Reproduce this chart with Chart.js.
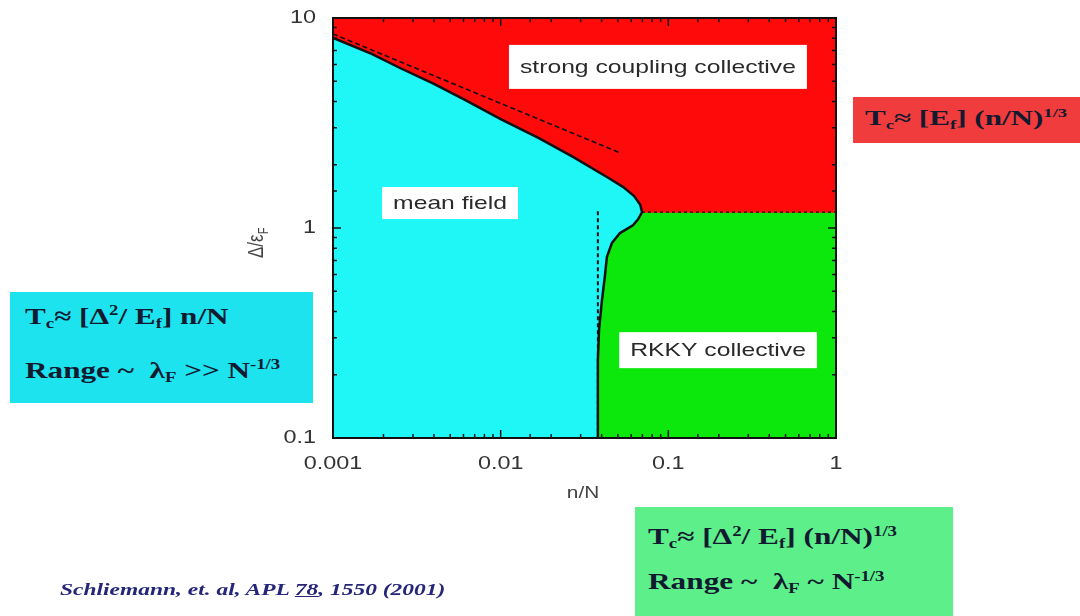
<!DOCTYPE html>
<html>
<head>
<meta charset="utf-8">
<script src="https://cdn.jsdelivr.net/npm/chart.js@4"></script>
<style>
  body { margin: 0; background: #fff; }
  #wrap { position: relative; width: 1080px; height: 616px; overflow: hidden; }
  #canvas { position: absolute; left: 0; top: 0; }
  .box { position: absolute; font-family: 'Liberation Serif', 'Times New Roman', serif; font-weight: bold; color: #121a30; }
  .box div { position: absolute; white-space: nowrap; transform-origin: left center; }
  .box sub { font-size: 0.6em; vertical-align: -0.3em; }
  .box sup { font-size: 0.6em; vertical-align: 0.6em; }
  .cyan { background: #1ce3ee; }
  .red { background: #f03c3c; }
  .green { background: #5cef8a; }
  #cite { position: absolute; left: 60px; top: 580px; font-family: 'Liberation Serif', serif; font-style: italic; font-weight: bold; font-size: 17px; color: #25257a; white-space: nowrap; transform: scaleX(1.38); transform-origin: left center; }
</style>
</head>
<body>
<div id="wrap">
  <canvas id="canvas" width="1080" height="616"></canvas>

  <div class="box cyan" style="left:10px;top:292px;width:303px;height:111px;font-size:24px;">
    <div style="left:15px;top:10px;transform:scaleX(1.3);">T<sub>c</sub>≈ [Δ<sup>2</sup>/ E<sub>f</sub>] n/N</div>
    <div style="left:15px;top:64px;transform:scaleX(1.3);">Range ~ &nbsp;λ<sub>F</sub> &gt;&gt; N<sup>-1/3</sup></div>
  </div>

  <div class="box red" style="left:853px;top:97px;width:227px;height:46px;font-size:21px;">
    <div style="left:12px;top:9px;transform:scaleX(1.48);">T<sub>c</sub>≈ [E<sub>f</sub>] (n/N)<sup>1/3</sup></div>
  </div>

  <div class="box green" style="left:635px;top:507px;width:318px;height:109px;font-size:23px;">
    <div style="left:13px;top:17px;transform:scaleX(1.36);">T<sub>c</sub>≈ [Δ<sup>2</sup>/ E<sub>f</sub>] (n/N)<sup>1/3</sup></div>
    <div style="left:13px;top:62px;transform:scaleX(1.36);">Range ~ &nbsp;λ<sub>F</sub> ~ N<sup>-1/3</sup></div>
  </div>

  <div id="cite">Schliemann, et. al, APL <u>78</u>, 1550 (2001)</div>
</div>

<script>
document.addEventListener('DOMContentLoaded', () => {
  // axis limits
  const xMin = 0.001, xMax = 1;
  const yMin = 0.1, yMax = 10;
  const xTicks = [0.001, 0.01, 0.1, 1];
  const yTicks = [0.1, 1, 10];
  const xTickLabels = ['0.001', '0.01', '0.1', '1'];
  const yTickLabels = ['0.1', '1', '10'];

  // phase boundary (solid black curve)
  const boundaryX = [0.001, 0.0017, 0.00251, 0.0040, 0.00612, 0.0100, 0.0169, 0.0270, 0.0430, 0.0536, 0.0625, 0.0680, 0.0697, 0.0660, 0.0615, 0.0515, 0.0461, 0.0430, 0.0418, 0.0402, 0.0386, 0.0380, 0.0380];
  const boundaryY = [8.03, 6.75, 5.78, 4.85, 4.07, 3.30, 2.68, 2.18, 1.75, 1.57, 1.42, 1.29, 1.19, 1.10, 1.03, 0.946, 0.849, 0.728, 0.585, 0.454, 0.327, 0.235, 0.1];
  const noseIndex = 12;

  // dashed asymptote lines
  const slopeX = [0.001, 0.0515];
  const slopeY = [8.4, 2.28];
  const vertX = [0.038, 0.038];
  const vertY = [1.2, 0.1];
  const horizX = [0.0697, 1];
  const horizY = [1.19, 1.19];

  // region labels
  const regionLabels = ['strong coupling collective', 'mean field', 'RKKY collective'];
  const labelX = [0.0867, 0.00499, 0.198];
  const labelY = [5.85, 1.315, 0.262];
  const labelH = [44, 32, 36];

  const stretch = 1.3; // the original slide is stretched sideways

  const pts = (xs, ys) => xs.map((x, i) => ({ x, y: ys[i] }));
  const boundary = pts(boundaryX, boundaryY);

  const redShape = [{ x: xMin, y: yMax }, { x: xMax, y: yMax }, { x: xMax, y: horizY[0] }]
    .concat(boundary.slice(0, noseIndex + 1).reverse());
  const cyanShape = [{ x: xMin, y: yMin }].concat(boundary);
  const greenShape = boundary.slice(noseIndex).concat([{ x: xMax, y: yMin }, { x: xMax, y: horizY[0] }]);

  const fillSet = (data, color) => ({
    data, showLine: true, fill: 'shape', backgroundColor: color, borderColor: color,
    borderWidth: 1, pointRadius: 0, order: 2,
  });
  const lineSet = (data, width, dash) => ({
    data, showLine: true, fill: false, borderColor: '#111', borderWidth: width,
    borderDash: dash, pointRadius: 0, order: 0,
  });

  const isDecade = (v) => Math.abs(Math.log10(v) - Math.round(Math.log10(v))) < 1e-6;
  const sans = '"Liberation Sans", Arial, sans-serif';

  // draws text stretched horizontally around (x, y)
  const wideText = (ctx, txt, x, y, align) => {
    ctx.save();
    ctx.translate(x, y);
    ctx.scale(stretch, 1);
    ctx.textAlign = align;
    ctx.fillText(txt, 0, 0);
    ctx.restore();
  };

  const frame = {
    id: 'frame',
    afterDatasetsDraw(chart) {
      const { ctx, chartArea: a } = chart;
      const sx = chart.scales.x, sy = chart.scales.y;
      ctx.save();
      ctx.strokeStyle = '#111';
      ctx.lineWidth = 1.5;
      [sx, sy].forEach((s) => {
        s.ticks.forEach((t) => {
          const p = s.getPixelForValue(t.value);
          const len = isDecade(t.value) ? 8 : 4;
          ctx.beginPath();
          if (s === sx) {
            ctx.moveTo(p, a.bottom); ctx.lineTo(p, a.bottom - len);
            ctx.moveTo(p, a.top); ctx.lineTo(p, a.top + len);
          } else {
            ctx.moveTo(a.left, p); ctx.lineTo(a.left + len, p);
            ctx.moveTo(a.right, p); ctx.lineTo(a.right - len, p);
          }
          ctx.stroke();
        });
      });
      ctx.lineWidth = 2;
      ctx.strokeRect(a.left, a.top, a.right - a.left, a.bottom - a.top);

      // tick labels
      ctx.fillStyle = '#333';
      ctx.font = '18px ' + sans;
      ctx.textBaseline = 'middle';
      xTicks.forEach((v, i) => wideText(ctx, xTickLabels[i], sx.getPixelForValue(v), a.bottom + 26, 'center'));
      yTicks.forEach((v, i) => wideText(ctx, yTickLabels[i], a.left - 17, sy.getPixelForValue(v), 'right'));

      // x title
      ctx.fillStyle = '#444';
      ctx.font = '16px ' + sans;
      wideText(ctx, 'n/N', sx.getPixelForValue(0.031), a.bottom + 56, 'center');

      // region labels
      ctx.font = '19px ' + sans;
      ctx.textBaseline = 'middle';
      regionLabels.forEach((txt, i) => {
        const cx = sx.getPixelForValue(labelX[i]);
        const cy = sy.getPixelForValue(labelY[i]);
        const w = ctx.measureText(txt).width * stretch + 22;
        const h = labelH[i];
        ctx.fillStyle = '#fff';
        ctx.fillRect(cx - w / 2, cy - h / 2, w, h);
        ctx.fillStyle = '#2a2a2a';
        wideText(ctx, txt, cx, cy + 1, 'center');
      });

      // y axis title  Δ/ε_F
      const yc = sy.getPixelForValue(0.85);
      ctx.translate(263, yc);
      ctx.rotate(-Math.PI / 2);
      ctx.scale(1, stretch);
      ctx.fillStyle = '#444';
      ctx.textAlign = 'left';
      ctx.textBaseline = 'alphabetic';
      ctx.font = '17px ' + sans;
      const main = 'Δ/ε';
      const mw = ctx.measureText(main).width;
      ctx.font = '11px ' + sans;
      const fw = ctx.measureText('F').width;
      const x0 = -(mw + fw) / 2;
      ctx.font = '17px ' + sans;
      ctx.fillText(main, x0, 0);
      ctx.font = '11px ' + sans;
      ctx.fillText('F', x0 + mw, 4);
      ctx.restore();
    },
  };

  const config = {
    type: 'scatter',
    data: {
      datasets: [
        lineSet(boundary, 2.5, []),
        lineSet(pts(slopeX, slopeY), 1.6, [5, 3]),
        lineSet(pts(vertX, vertY), 2, [4, 3]),
        lineSet(pts(horizX, horizY), 1.3, [3, 3]),
        fillSet(redShape, '#ff0a0a'),
        fillSet(cyanShape, '#1ff7f7'),
        fillSet(greenShape, '#0ce80c'),
      ],
    },
    options: {
      responsive: false,
      animation: false,
      layout: { padding: { left: 253, right: 244, top: 18, bottom: 108 } },
      plugins: { legend: { display: false }, tooltip: { enabled: false } },
      scales: {
        x: {
          type: 'logarithmic',
          min: xMin,
          max: xMax,
          grid: { display: false },
          border: { display: false },
          ticks: { display: false, autoSkip: false },
          afterFit: (s) => { s.height = 70; },
        },
        y: {
          type: 'logarithmic',
          min: yMin,
          max: yMax,
          grid: { display: false },
          border: { display: false },
          ticks: { display: false, autoSkip: false },
          afterFit: (s) => { s.width = 80; },
        },
      },
    },
    plugins: [frame],
  };

  const ctx = document.getElementById('canvas').getContext('2d');
  window.myChart = new Chart(ctx, config);
});
</script>
</body>
</html>
